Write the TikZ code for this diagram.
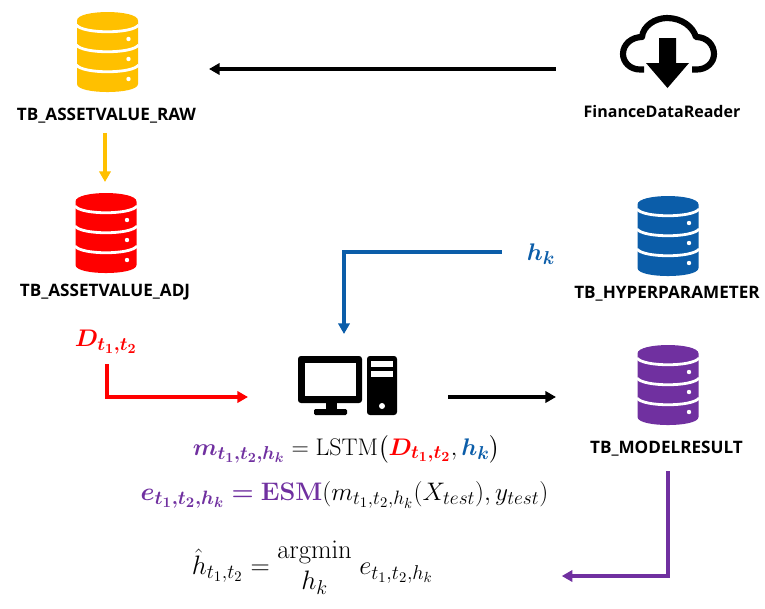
\documentclass[tikz,border=0pt]{standalone}
\usepackage{fix-cm}
\usepackage{amsmath,amsbsy}
\usepackage[no-math]{fontspec}
\setmainfont{Open Sans}
\DeclareMathSizes{18}{18}{14}{10.5}
\DeclareMathSizes{19}{19}{14.5}{11}
\DeclareMathSizes{20}{20}{15}{11}
\usetikzlibrary{arrows.meta}
\definecolor{cyellow}{HTML}{FFC000}
\definecolor{cred}{HTML}{FF0000}
\definecolor{cblue}{HTML}{0B5DA9}
\definecolor{cpurple}{HTML}{7030A0}
\tikzset{
  x=0.75pt,y=-0.75pt,
  lbl/.style={font=\fontsize{12.85}{15}\selectfont\bfseries,inner sep=0pt,minimum height=15pt,anchor=center},
  icon/.style={inner sep=0pt,outer sep=0pt,draw=none},
  eqn/.style={font=\fontsize{18}{21}\selectfont,inner sep=0pt,text=black},
  conn/.style={line width=2.9pt,-{Triangle[length=8pt,width=8.5pt]}},
  sep/.style={draw=white,line width=2.1pt}
}
\newcommand{\dbicon}[2]{%
  \begin{scope}[shift={(#1)}]
    \fill[#2] (-30.5,8.5) .. controls (-30.5,-2.8) and (30.5,-2.8) .. (30.5,8.5)
      -- (30.5,72) .. controls (30.5,82.7) and (-30.5,82.7) .. (-30.5,72) -- cycle;
    \foreach \s in {13,33,53}{
      \draw[sep] (-31,\s) .. controls (-25,{\s+9}) and (25,{\s+9}) .. (31,\s);
      \fill[white] (21,{\s+14}) circle[radius=2.2];
    }
  \end{scope}}
\begin{document}
\begin{tikzpicture}
\useasboundingbox (0,0) rectangle (765,608);

% icons
\dbicon{107.5,12}{cyellow}
\dbicon{106,193}{cred}
\dbicon{668,196}{cblue}
\dbicon{668,345}{cpurple}
\node[icon,minimum width=45.75pt,minimum height=60pt] (raw) at (107.5,52) {};
\node[icon,minimum width=45.75pt,minimum height=60pt] (adj) at (106,233) {};
\node[icon,minimum width=45.75pt,minimum height=60pt] (hyper) at (668,236) {};
\node[icon,minimum width=45.75pt,minimum height=60pt] (result) at (668,385) {};

% cloud
\draw[line width=4.6pt,line cap=butt,line join=round]
  (644,69.5) -- (640,69.5) .. controls (630,69.5) and (623,62) .. (623,54)
  .. controls (623,44) and (632,37) .. (642,37)
  .. controls (643,26) and (655,18) .. (667,18)
  .. controls (682,18) and (693,27) .. (696,37)
  .. controls (707,37) and (714,45) .. (714,54)
  .. controls (714,63) and (706,69.5) .. (697,69.5) -- (692,69.5);
\fill (659,38) -- (676,38) -- (676,63) -- (689,63) -- (667.5,88) -- (646,63) -- (659,63) -- cycle;
\node[icon,minimum width=72.75pt,minimum height=55pt] (cloud) at (668.5,52) {};

% computer
\fill[rounded corners=2.2pt] (298,356) rectangle (362,403);
\fill[white] (305,363) rectangle (356,396);
\fill (326,403) rectangle (337,410);
\fill[rounded corners=1pt] (314,409) rectangle (347,415);
\fill[rounded corners=2.2pt] (367,356) rectangle (397,415);
\fill[white] (371,361) rectangle (393,367);
\fill[white] (371,371) rectangle (393,377);
\fill[white] (382,406) circle[radius=3];
\node[icon,minimum width=74.25pt,minimum height=44.25pt] (pc) at (347.5,385.5) {};

% labels
\node[lbl] (rawlabel) at (106.5,115.5) {TB\_ASSETVALUE\_RAW};
\node[lbl] (adjlabel) at (105,292.5) {TB\_ASSETVALUE\_ADJ};
\node[lbl,font=\fontsize{12}{15}\selectfont\bfseries] (cloudlabel) at (662,111) {FinanceDataReader};
\node[lbl] (hyperlabel) at (667,293.5) {TB\_HYPERPARAMETER};
\node[lbl] (resultlabel) at (666.5,449) {TB\_MODELRESULT};

% symbols
\node[eqn,minimum width=22.5pt,minimum height=22.5pt] (hk) at (541,254)
  {$\textcolor{cblue}{\boldsymbol{h_k}}$};
\node[eqn,minimum width=45pt,minimum height=22.5pt] (dt) at (106,342)
  {$\textcolor{cred}{\boldsymbol{D_{t_1,t_2}}}$};
\node[eqn] (eqm) at (346.5,449)
  {$\textcolor{cpurple}{\boldsymbol{m_{t_1,t_2,h_k}}} = \mathrm{LSTM}\bigl(\textcolor{cred}{\boldsymbol{D_{t_1,t_2}}},\textcolor{cblue}{\boldsymbol{h_k}}\bigr)$};
\node[eqn,font=\fontsize{19}{22}\selectfont] (eqe) at (344.5,495)
  {$\textcolor{cpurple}{\boldsymbol{e_{t_1,t_2,h_k}} \boldsymbol{=} \mathbf{ESM}}(m_{t_1,t_2,h_k}(X_{test}),y_{test})$};
\node[eqn,font=\fontsize{20}{23}\selectfont,minimum width=187.5pt] (eqh) at (312.5,568)
  {$\hat h_{t_1,t_2} = \begin{matrix}\mathrm{argmin}\\ h_k\end{matrix}\; e_{t_1,t_2,h_k}$};

% connectors
\draw[conn] ([shift={(-64.5,17)}]cloud.west) -- ([shift={(71,17)}]raw.east);
\draw[conn,cyellow] ([shift={(-1.5,7)}]rawlabel.south) -- ([shift={(-1,-11)}]adj.north);
\draw[conn,cblue] ([shift={(-24,-2)}]hk.west) -| ([shift={(-3.5,-22)}]pc.north);
\draw[conn,cred] ([shift={(1,7)}]dt.south) |- ([shift={(-50,11.5)}]pc.west);
\draw[conn] ([shift={(51,11.5)}]pc.east) -- ([shift={(-81.5,12)}]result.west);
\draw[conn,cpurple] ([shift={(1.5,12)}]resultlabel.south) |- ([shift={(124,8)}]eqh.east);
\end{tikzpicture}
\end{document}
